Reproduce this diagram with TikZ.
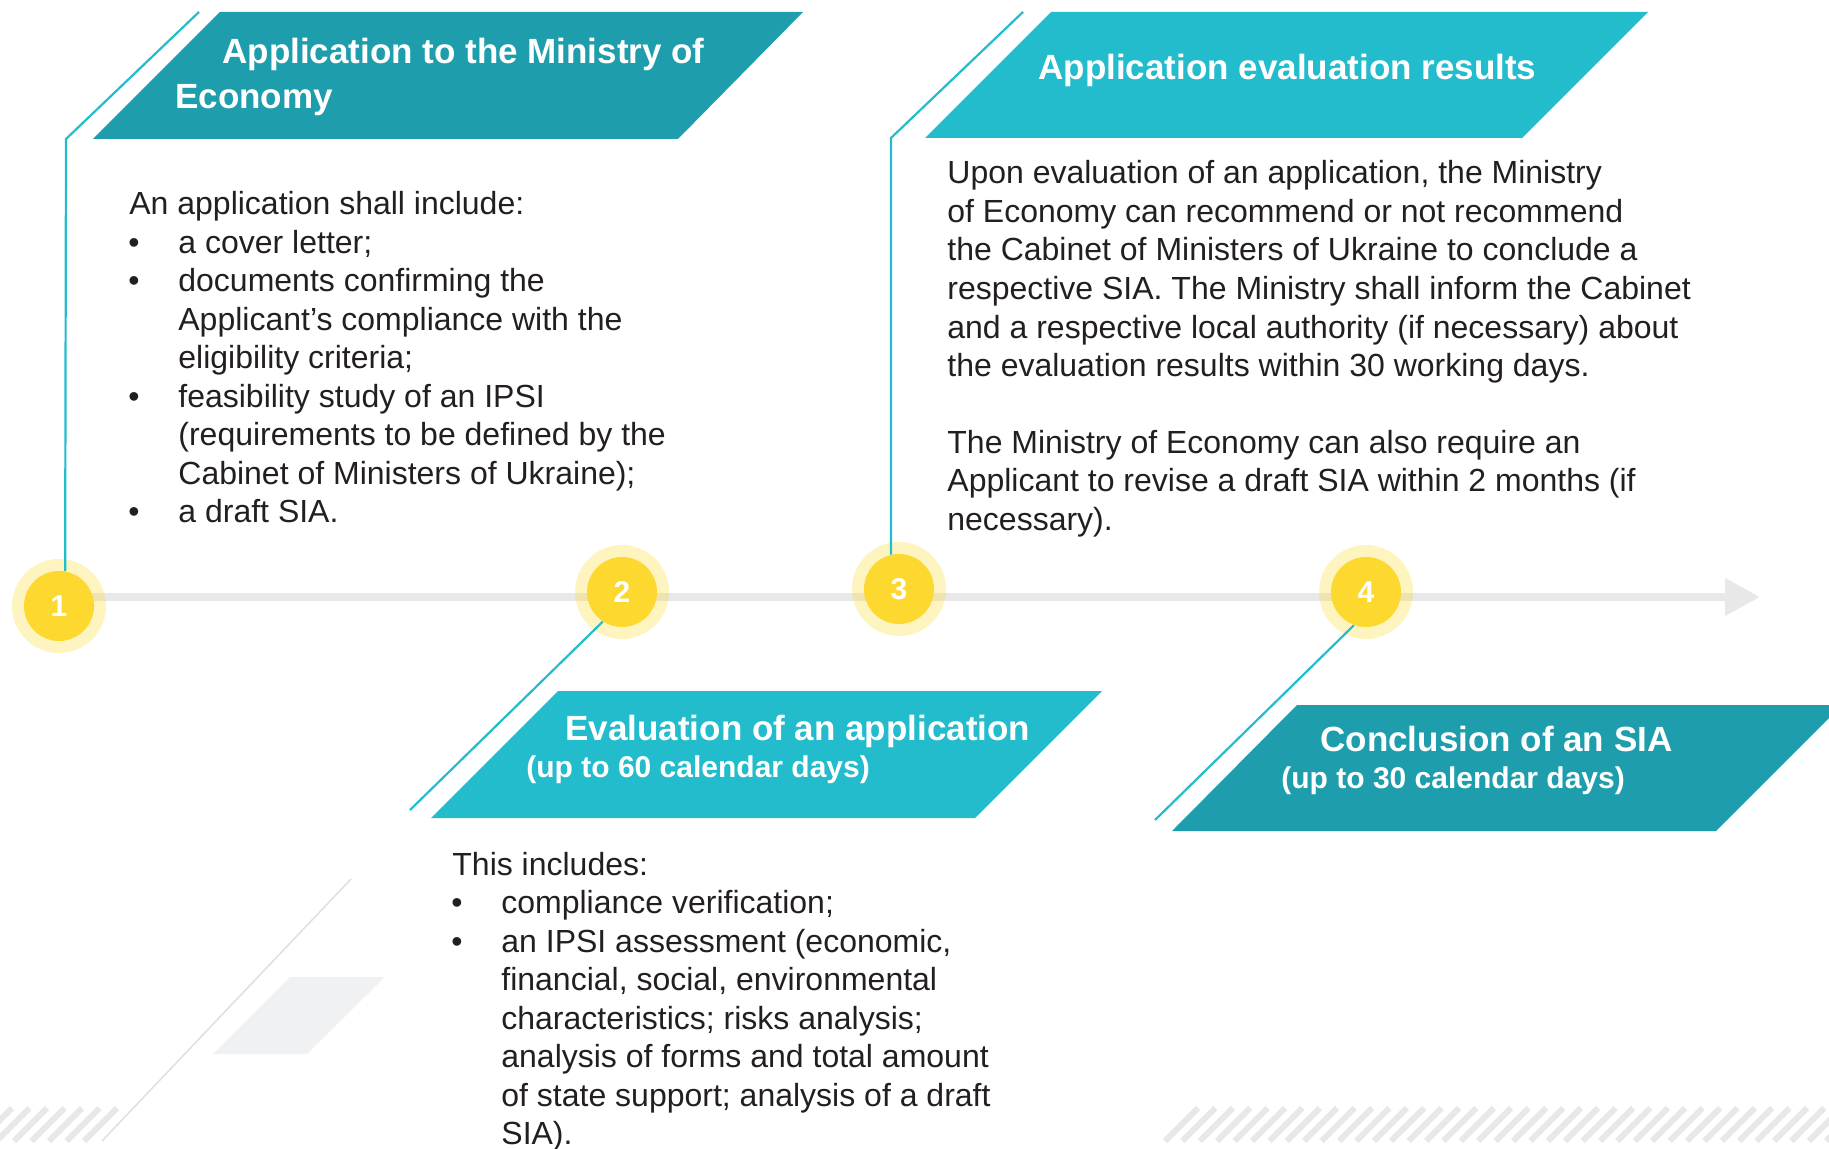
\documentclass[tikz,border=0pt]{standalone}
\usepackage{fontspec}
\setmainfont{Liberation Sans}
\usetikzlibrary{arrows.meta}

\definecolor{tealdark}{HTML}{1E9EAC}
\definecolor{teallight}{HTML}{22BCCD}
\definecolor{dotyellow}{HTML}{FDD92F}
\definecolor{bargray}{HTML}{E8E8E8}
\definecolor{shadegray}{HTML}{F0F1F3}
\definecolor{textdark}{HTML}{231F20}

\newcommand{\bul}{\makebox[24.5pt][l]{\hspace{-0.5pt}\textbullet}}
\newcommand{\ind}{\hspace*{24.5pt}}

\begin{document}
\begin{tikzpicture}[
    x=0.5pt, y=-0.5pt,
    title/.style={anchor=base west, inner sep=0pt, text=white, align=left, font=\bfseries\fontsize{17.5}{22.5}\selectfont},
    subtitle/.style={anchor=base west, inner sep=0pt, text=white, font=\bfseries\fontsize{15}{18}\selectfont},
    body/.style={anchor=base west, inner sep=0pt, text=textdark, align=left, font=\fontsize{16}{19.25}\selectfont},
    ring/.style={circle, minimum size=47pt, inner sep=0pt, fill=dotyellow, fill opacity=0.3},
    dot/.style={circle, minimum size=35pt, inner sep=0pt, fill=dotyellow, text=white, font=\bfseries\fontsize{15}{15}\selectfont},
    accent/.style={teallight, line width=1.1pt},
    stripe/.style={bargray, line width=3pt},
    bar/.style={bargray, line width=4pt, -{Triangle[length=17.5pt, width=18pt]}}
]
    \useasboundingbox (0,0) rectangle (1829,1149);

    % Background
    \foreach \k in {0,...,7}
        \draw[stripe] ({-38.5+17.5*\k},1141) -- ({-5.5+17.5*\k},1108);
    \foreach \k in {0,...,38}
        \draw[stripe] ({1165+17.4*\k},1141) -- ({1198+17.4*\k},1108);
    \draw[black!12, line width=0.8pt] (351,879) -- (102,1141);
    \fill[shadegray] (213,1054) -- (290,977) -- (385,977) -- (307,1054) -- cycle;

    % Timeline
    \coordinate (p1) at (59,606);
    \coordinate (p2) at (622,592);
    \coordinate (p3) at (899,589);
    \coordinate (p4) at (1366,592);
    \coordinate (tip) at (1760,597);
    \draw[bar] (p1 |- tip) -- (tip);

    % Banners
    \fill[tealdark] (93,139) -- (220,12) -- (803,12) -- (678,139) -- cycle;
    \fill[teallight] (925,138) -- (1051,12) -- (1648,12) -- (1522,138) -- cycle;
    \fill[teallight] (431,818) -- (558,691) -- (1102,691) -- (975,818) -- cycle;
    \fill[tealdark] (1172,831) -- (1297,705) -- (1842,705) -- (1716,831) -- cycle;

    % base = last line
    \node[title] (h1) at (175,109) {\hspace*{23.5pt}Application to the Ministry of\\Economy};
    \node[title] (h2) at (1038,80) {Application evaluation results};
    \node[title] (h3) at (565,740) {Evaluation of an application};
    \node[subtitle] (h3s) at (526,777) {(up to 60 calendar days)};
    \node[title] (h4) at (1320,751) {Conclusion of an SIA};
    \node[subtitle] (h4s) at (1281,788) {(up to 30 calendar days)};

    % Steps
    \foreach \i in {1,...,4} {
        \node[ring] (r\i) at (p\i) {};
        \node[dot] (c\i) at (p\i) {\i};
    }

    % Accent lines
    \coordinate (k1) at (66,139);
    \coordinate (k1t) at (199,12);
    \coordinate (k3) at (891,138);
    \coordinate (k3t) at (1023,12);
    \coordinate (k2) at (410,810);
    \coordinate (k4) at (1155,820);
    \draw[accent] (k1t) -- (k1) -- (c1.80);
    \draw[accent] (k3t) -- (k3) -- (c3.103);
    \draw[accent] (c2.237) -- (k2);
    \draw[accent] (c4.250) -- (k4);

    % Texts
    \node[body] (b1) at (129,523) {An application shall include:\\
        \bul a cover letter;\\
        \bul documents confirming the\\
        \ind Applicant’s compliance with the\\
        \ind eligibility criteria;\\
        \bul feasibility study of an IPSI\\
        \ind (requirements to be defined by the\\
        \ind Cabinet of Ministers of Ukraine);\\
        \bul a draft SIA.};
    \node[body] (b3) at (947,530.5) {Upon evaluation of an application, the Ministry\\
        of Economy can recommend or not recommend\\
        the Cabinet of Ministers of Ukraine to conclude a\\
        respective SIA. The Ministry shall inform the Cabinet\\
        and a respective local authority (if necessary) about\\
        the evaluation results within 30 working days.\\[19.25pt]
        The Ministry of Economy can also require an\\
        Applicant to revise a draft SIA within 2 months (if\\
        necessary).};
    \node[body] (b2) at (452,1144.5) {This includes:\\
        \bul compliance verification;\\
        \bul an IPSI assessment (economic,\\
        \ind financial, social, environmental\\
        \ind characteristics; risks analysis;\\
        \ind analysis of forms and total amount\\
        \ind of state support; analysis of a draft\\
        \ind SIA).};
\end{tikzpicture}
\end{document}
